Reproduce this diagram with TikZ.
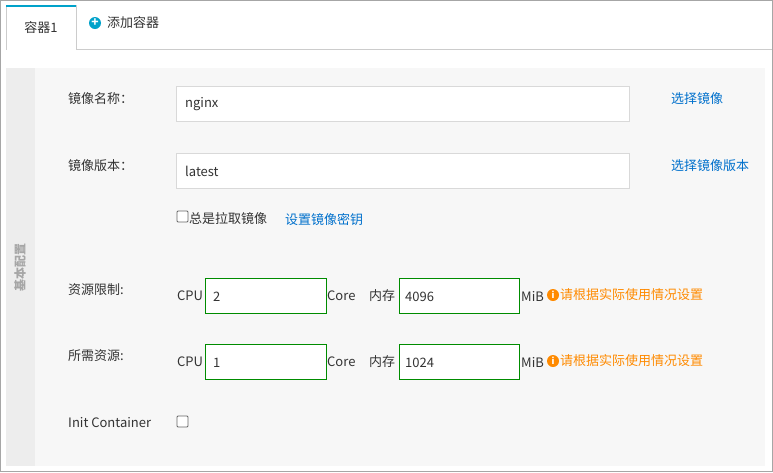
\documentclass[tikz,border=0pt]{standalone}
\usepackage{fontspec}
\setmainfont{Noto Sans CJK SC}
\begin{document}
\begin{tikzpicture}[x=1pt,y=-1pt,
  txt/.style={anchor=west,inner sep=0pt,font=\fontsize{13}{15}\selectfont,text=black!80},
  lnk/.style={txt,text=linkblue},
  warn/.style={txt,text=warnorange},
  inbox/.style={draw=black!15,fill=white},
  gbox/.style={draw=green!55!black,fill=white,line width=0.8pt},
  cbox/.style={draw=black!60,fill=white,line width=0.8pt,rounded corners=1pt}]
\definecolor{linkblue}{HTML}{0070CC}
\definecolor{warnorange}{HTML}{FF8A00}
\definecolor{tabblue}{HTML}{00A2CA}
\useasboundingbox (0,0) rectangle (773,472);
\draw[black!35,fill=white] (0.5,0.5) rectangle (772.5,471.5);
% tabs
\draw[black!20] (6,49.5) -- (772,49.5);
\draw[black!20,fill=white] (6,49.5) -- (6,5) -- (76,5) -- (76,49.5);
\fill[tabblue] (6,4.5) rectangle (76,7);
\node[txt,anchor=center] (t1) at (41,28) {容器1};
\node[circle,fill=tabblue,minimum size=12pt,inner sep=0pt,text=white,font=\bfseries\fontsize{12}{12}\selectfont] (plus) at (95,23) {+};
\node[txt] (t2) at (107,23) {添加容器};
% panel
\fill[black!3] (6,68) rectangle (765,466);
\fill[black!7] (6,68) rectangle (35,466);
\node[txt,anchor=center,rotate=90,text=black!35,font=\bfseries\fontsize{12}{12}\selectfont] (side) at (20,267) {基本配置};
% image name
\node[txt] (l1) at (68,99) {镜像名称：};
\draw[inbox] (176,86) rectangle (629,121);
\node[txt] (v1) at (185,104) {nginx};
\node[lnk] (a1) at (671,99) {选择镜像};
% image version
\node[txt] (l2) at (68,166) {镜像版本：};
\draw[inbox] (176,153) rectangle (629,188);
\node[txt] (v2) at (185,171) {latest};
\node[lnk] (a2) at (671,166) {选择镜像版本};
% pull
\draw[cbox] (177,211) rectangle (188,222);
\node[txt] (pull) at (189,219) {总是拉取镜像};
\node[lnk] (sec) at (285,220) {设置镜像密钥};
% limits
\foreach \y/\lab/\cpu/\mem in {296/资源限制:/2/4096, 362/所需资源:/1/1024}{
  \node[txt] at (68,\y-6) {\lab};
  \node[txt] at (177,\y) {CPU};
  \draw[gbox] (205,\y-18) rectangle (326,\y+17);
  \node[txt] at (213,\y+1) {\cpu};
  \node[txt] at (327,\y) {Core};
  \node[txt] at (369,\y) {内存};
  \draw[gbox] (399,\y-18) rectangle (519,\y+17);
  \node[txt] at (405,\y+1) {\mem};
  \node[txt] at (521,\y) {MiB};
  \node[circle,fill=warnorange,minimum size=12pt,inner sep=0pt,text=white,font=\bfseries\itshape\fontsize{9}{9}\selectfont] at (553,\y-1) {i};
  \node[warn] at (560,\y-1) {请根据实际使用情况设置};
}
% init container
\node[txt] (ic) at (68,423) {Init Container};
\draw[cbox] (177,416) rectangle (188,427);
\end{tikzpicture}
\end{document}
